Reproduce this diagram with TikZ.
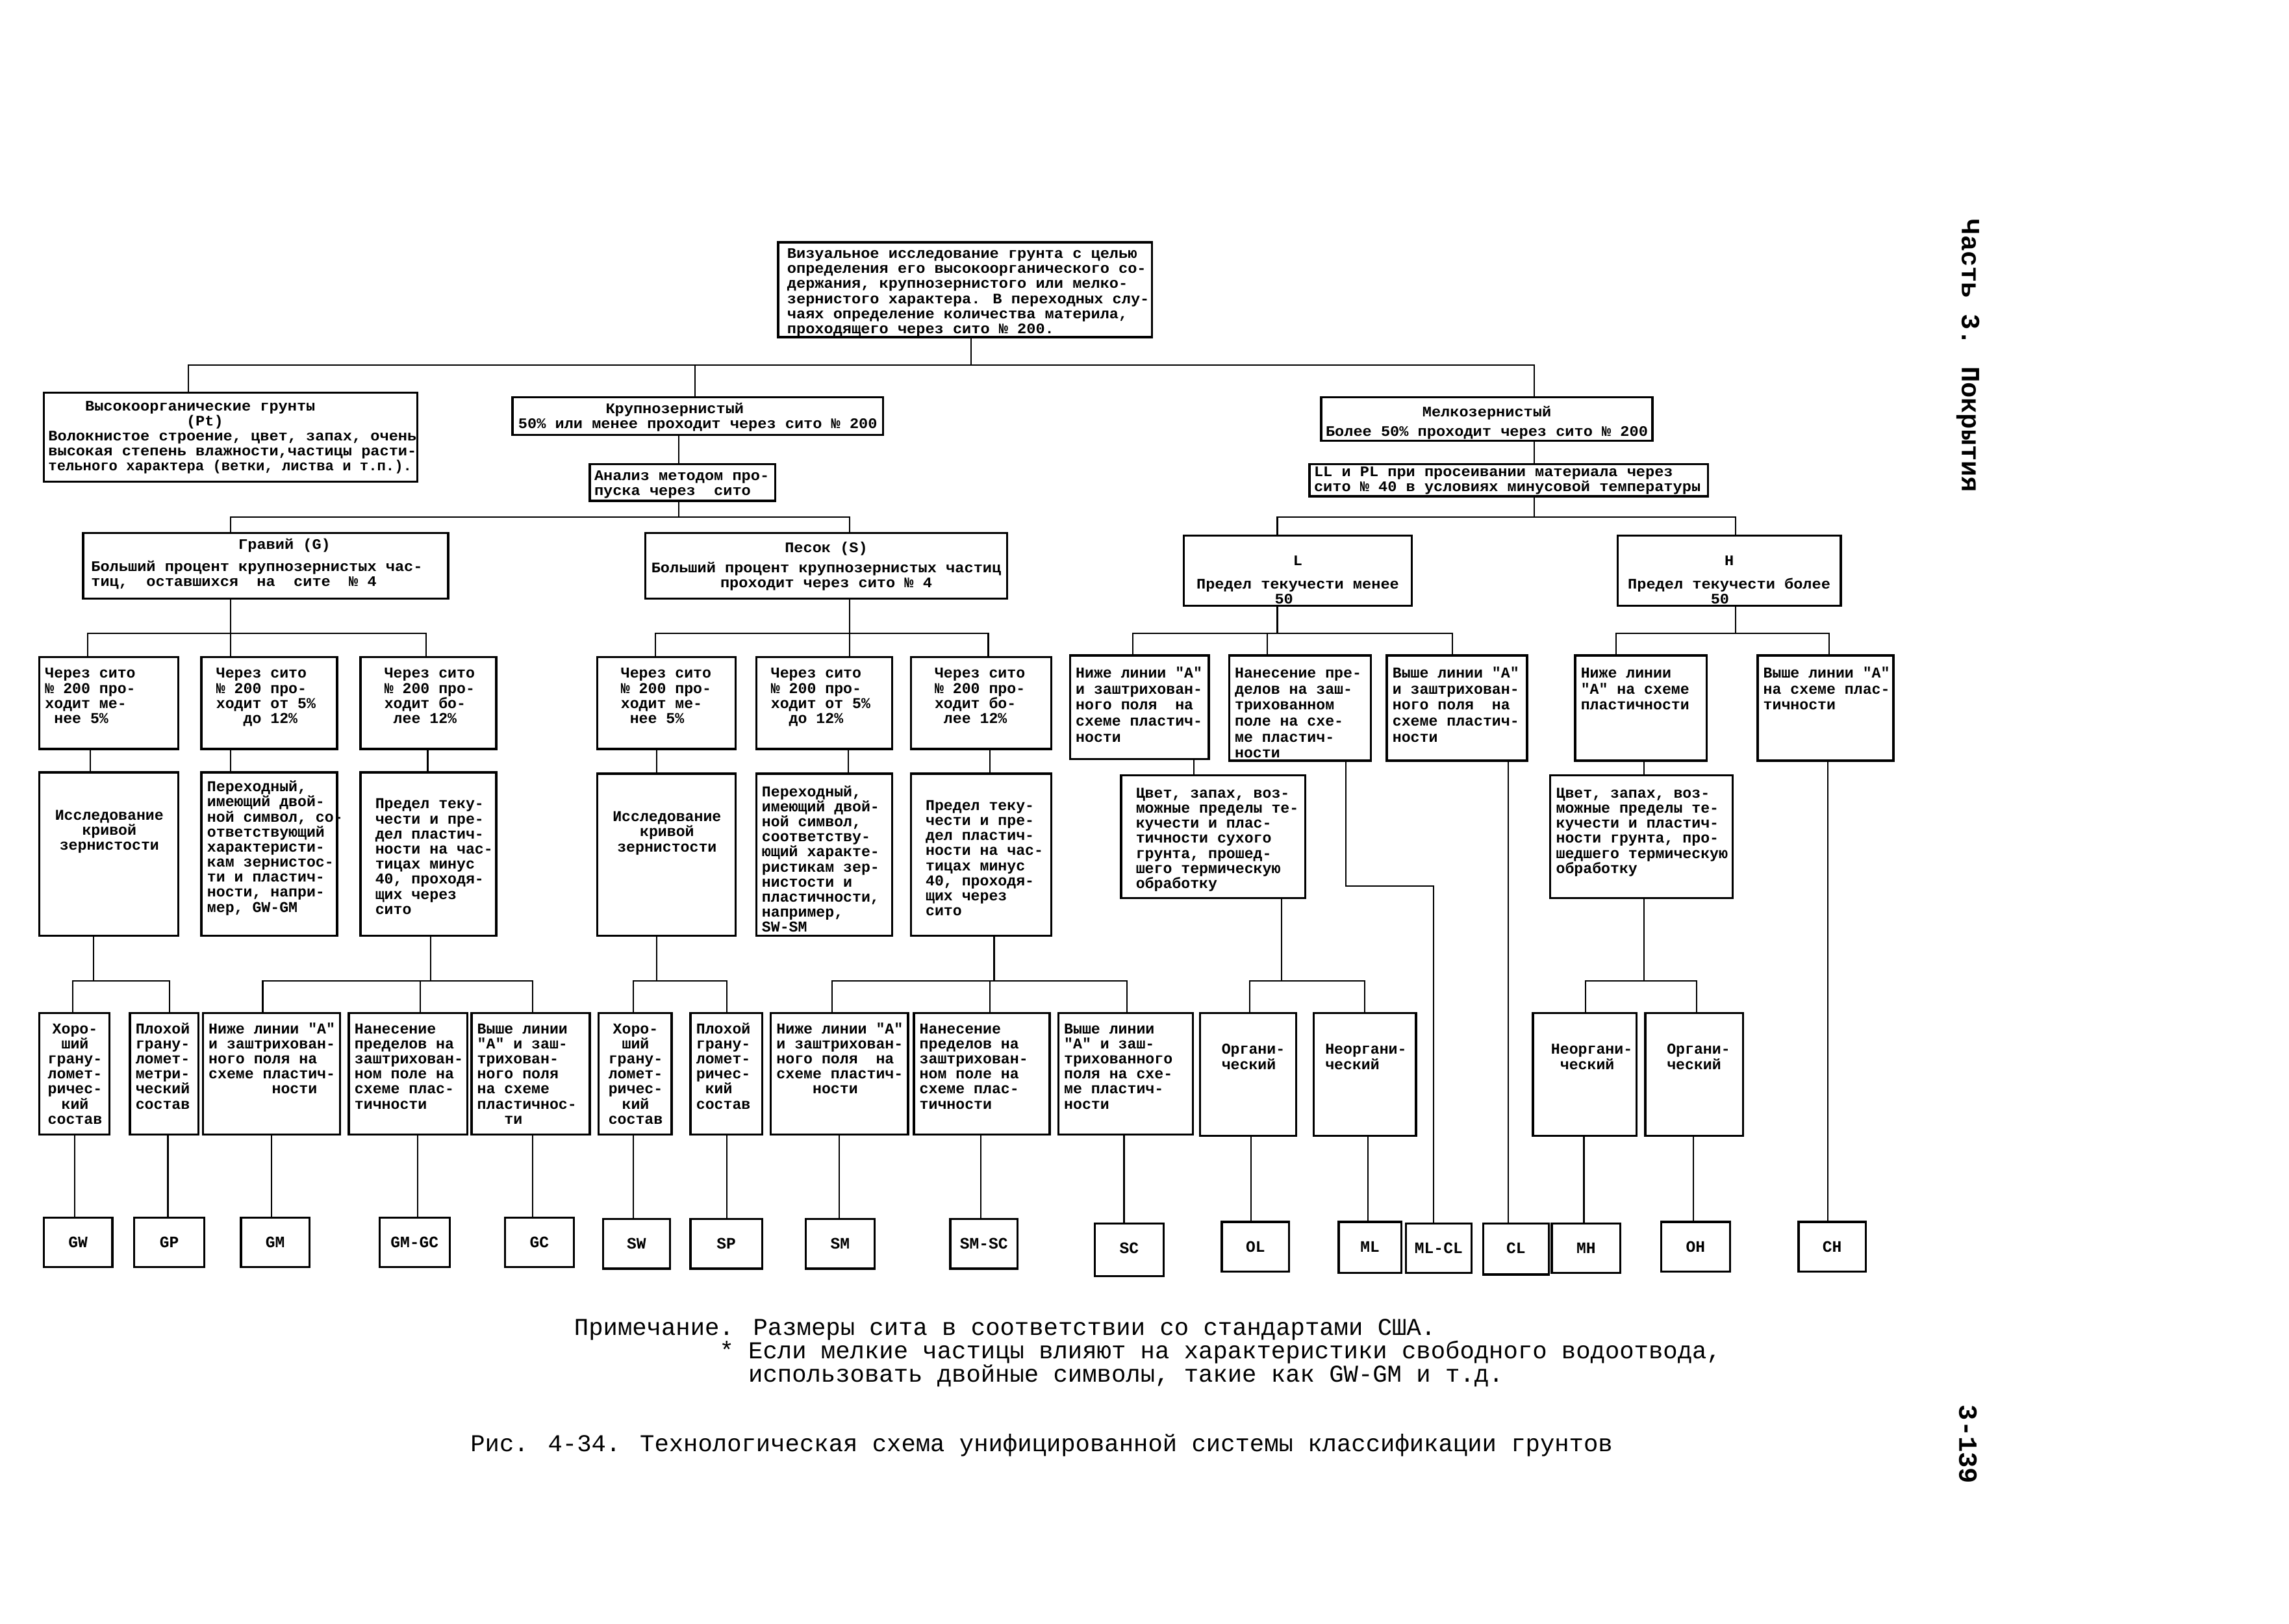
\documentclass[tikz,border=0pt]{standalone}
\usepackage{fontspec}
\usepackage{graphicx}
\usepackage{tikz}
\newfontfamily\mono{Liberation Mono}
\newfontfamily\monowide[FakeStretch=1.05]{Liberation Mono}
\newlength\unitpx \setlength\unitpx{0.22474mm}
\tikzset{
  toff/.store in=\toff, toff=0pt,
  lind/.store in=\lind, lind=0pt,
  box/.style={draw, line width=0.95pt, inner sep=0pt},
  topbox/.style={box, font=\monowide\bfseries\fontsize{6.4}{6.6}\selectfont, toff=0pt},
  lowbox/.style={box, font=\mono\bfseries\fontsize{6.6}{6.6}\selectfont, toff=2.3pt, lind=0.5pt},
  finebox/.style={box, font=\mono\bfseries\fontsize{6.6}{7}\selectfont, toff=2.6pt, lind=0.5pt},
  leaf/.style={box, font=\mono\bfseries\fontsize{7}{7}\selectfont, toff=5.9pt},
  link/.style={line width=0.6pt},
  note/.style={font=\mono\fontsize{10.6}{10.3}\selectfont, align=left, inner sep=0pt},
  side/.style={font=\mono\bfseries\fontsize{11.5}{12}\selectfont, inner sep=0pt},
}
\newcommand\rowgap[1]{\noalign{\vskip#1}}
% box by its corners: [style]{name}{x1}{y1}{x2}{y2}{l|c}{lines}
\newcommand\soilbox[8][]{%
  \node[#1, minimum width={(#5-#3)*\unitpx}, minimum height={(#6-#4)*\unitpx}]
    (#2) at ({(#3+#5)/2},{(#4+#6)/2})
    {\parbox[c][\dimexpr\unitpx*(#6-#4)-4pt\relax][t]{\dimexpr\unitpx*(#5-#3)-4pt\relax}{%
      \vspace*{\toff}\ifx c#7\centering\fi\leavevmode
      \vtop{\let\\=\cr\lineskiplimit=-\maxdimen
        \halign{\vrule height.75\baselineskip depth.25\baselineskip width0pt%
          \hskip\lind\ifx c#7\hfil\fi##\hfil\cr#8\crcr}}}};}

\begin{document}
\begin{tikzpicture}[x=0.22474mm, y=-0.22474mm]
\useasboundingbox (0,0) rectangle (1568,1112);

% top of the tree
\soilbox[topbox, lind=2pt]{vis}{533}{166}{789}{231}{l}{Визуальное исследование грунта с целью\\определения его высокоорганического со-\\держания, крупнозернистого или мелко-\\зернистого характера. В переходных слу-\\чаях определение количества материла,\\проходящего через сито № 200.}
\soilbox[topbox, toff=0.9pt]{pt}{30}{269}{286}{330}{l}{~~~~Высокоорганические грунты\\~~~~~~~~~~~~~~~(Pt)\\Волокнистое строение, цвет, запах, очень\\высокая степень влажности,частицы расти-\\\scalebox{0.94}[1]{тельного характера (ветки, листва и т.п.).}}
\soilbox[topbox, toff=0.3pt]{coarse}{351}{272}{605}{298}{c}{Крупнозернистый~~~~~\\50\% или менее проходит через сито № 200}
\soilbox[topbox, toff=0pt]{anal}{404}{318}{531}{343}{l}{Анализ методом про-\\пуска через~~сито}
\soilbox[topbox, toff=1.5pt]{fine}{905}{272}{1132}{302}{c}{Мелкозернистый\\\rowgap{2pt}Более 50\% проходит через сито № 200}
\soilbox[topbox, toff=-1.6pt]{llpl}{897}{318}{1170}{340}{l}{LL и PL при просеивании материала через\\сито № 40 в условиях минусовой температуры}

\soilbox[topbox, toff=0.3pt, lind=1.5pt]{grav}{57}{365}{307}{410}{l}{~~~~~~~~~~~~~~~~Гравий (G)\\\rowgap{3pt}Больший процент крупнозернистых час-\\тиц,~~оставшихся~~на~~сите~~№~4}
\soilbox[topbox, toff=1.5pt]{sand}{442}{365}{690}{410}{c}{Песок (S)\\\rowgap{2.3pt}Больший процент крупнозернистых частиц\\проходит через сито № 4}
\soilbox[topbox, toff=6pt]{lowL}{811}{367}{967}{415}{c}{L\\\rowgap{3.6pt}Предел текучести менее\\50~~~}
\soilbox[topbox, toff=6pt]{highH}{1108}{367}{1261}{415}{c}{H\\\rowgap{3.6pt}Предел текучести более\\50~~}

% gravel
\soilbox[lowbox]{g1}{27}{450}{122}{513}{l}{Через сито\\№ 200 про-\\ходит ме-\\~нее 5\%}
\soilbox[lowbox]{g2}{138}{450}{231}{513}{l}{~Через сито\\~№ 200 про-\\~ходит от 5\%\\~~~~до 12\%}
\soilbox[lowbox]{g3}{247}{450}{340}{513}{l}{~~Через сито\\~~№ 200 про-\\~~ходит бо-\\~~~лее 12\%}
\soilbox[lowbox, toff=14pt]{gl1}{27}{529}{122}{641}{c}{Исследование\\кривой\\зернистости}
\soilbox[lowbox, toff=1.5pt]{gl2}{138}{529}{231}{641}{l}{Переходный,\\имеющий двой-\\ной символ, со-\\ответствующий\\характеристи-\\кам зернистос-\\ти и пластич-\\ности, напри-\\мер, GW-GM}
\soilbox[lowbox, toff=9pt]{gl3}{247}{529}{340}{641}{l}{~Предел теку-\\~чести и пре-\\~дел пластич-\\~ности на час-\\~тицах минус\\~40, проходя-\\~щих через\\~сито}

% sand
\soilbox[lowbox]{s1}{409}{450}{504}{513}{l}{~~Через сито\\~~№ 200 про-\\~~ходит ме-\\~~~нее 5\%}
\soilbox[lowbox]{s2}{518}{450}{611}{513}{l}{~Через сито\\~№ 200 про-\\~ходит от 5\%\\~~~до 12\%}
\soilbox[lowbox]{s3}{624}{450}{720}{513}{l}{~~Через сито\\~~№ 200 про-\\~~ходит бо-\\~~~лее 12\%}
\soilbox[lowbox, toff=14pt]{sl1}{409}{530}{504}{641}{c}{Исследование\\кривой\\зернистости}
\soilbox[lowbox, toff=3pt]{sl2}{518}{530}{611}{641}{l}{Переходный,\\имеющий двой-\\ной символ,\\соответству-\\ющий характе-\\ристикам зер-\\нистости и\\пластичности,\\например,\\SW-SM}
\soilbox[lowbox, toff=9pt]{sl3}{624}{530}{720}{641}{l}{~Предел теку-\\~чести и пре-\\~дел пластич-\\~ности на час-\\~тицах минус\\~40, проходя-\\~щих через\\~сито}

% fine grained
\soilbox[finebox]{f1}{733}{449}{828}{520}{l}{Ниже линии "А"\\и заштрихован-\\ного поля~ на\\схеме пластич-\\ности}
\soilbox[finebox]{f2}{842}{449}{939}{521}{l}{Нанесение пре-\\делов на заш-\\трихованном\\поле на схе-\\ме пластич-\\ности}
\soilbox[finebox]{f3}{950}{449}{1046}{521}{l}{Выше линии "А"\\и заштрихован-\\ного поля~ на\\схеме пластич-\\ности}
\soilbox[finebox]{f4}{1079}{449}{1169}{521}{l}{Ниже линии\\"А" на схеме\\пластичности}
\soilbox[finebox]{f5}{1204}{449}{1297}{521}{l}{Выше линии "А"\\на схеме плас-\\тичности}
\soilbox[lowbox, toff=3pt]{c1}{768}{531}{894}{615}{l}{~Цвет, запах, воз-\\~можные пределы те-\\~кучести и плас-\\~тичности сухого\\~грунта, прошед-\\~шего термическую\\~обработку}
\soilbox[lowbox, toff=3pt]{c2}{1062}{531}{1187}{615}{l}{Цвет, запах, воз-\\можные пределы те-\\кучести и пластич-\\ности грунта, про-\\шедшего термическую\\обработку}

% bottom row
\soilbox[lowbox, toff=2pt]{gw}{27}{694}{75}{777}{c}{Хоро-\\ший\\грану-\\ломет-\\ричес-\\кий\\состав}
\soilbox[lowbox, toff=2pt]{gp}{89}{694}{136}{777}{l}{Плохой\\грану-\\ломет-\\метри-\\ческий\\состав}
\soilbox[lowbox, toff=2pt]{gm}{139}{694}{233}{777}{l}{Ниже линии "А"\\и заштрихован-\\ного поля на\\схеме пластич-\\~~~~~~~ности}
\soilbox[lowbox, toff=2pt]{gmgc}{239}{694}{320}{777}{l}{Нанесение\\пределов на\\заштрихован-\\ном поле на\\схеме плас-\\тичности}
\soilbox[lowbox, toff=2pt]{gc}{323}{694}{404}{777}{l}{Выше линии\\"А" и заш-\\трихован-\\ного поля\\на схеме\\пластичнос-\\~~~ти}
\soilbox[lowbox, toff=2pt]{sw}{410}{694}{460}{777}{c}{Хоро-\\ший\\грану-\\ломет-\\ричес-\\кий\\состав}
\soilbox[lowbox, toff=2pt]{sp}{473}{694}{522}{777}{l}{Плохой\\грану-\\ломет-\\ричес-\\~кий\\состав}
\soilbox[lowbox, toff=2pt]{sm}{528}{694}{622}{777}{l}{Ниже линии "А"\\и заштрихован-\\ного поля~ на\\схеме пластич-\\~~~~ности}
\soilbox[lowbox, toff=2pt]{smsc}{626}{694}{719}{777}{l}{Нанесение\\пределов на\\заштрихован-\\ном поле на\\схеме плас-\\тичности}
\soilbox[lowbox, toff=2pt]{sc}{725}{694}{817}{777}{l}{Выше линии\\"А" и заш-\\трихованного\\поля на схе-\\ме пластич-\\ности}
\soilbox[lowbox, toff=11pt, lind=7.5pt]{ol}{822}{694}{888}{778}{l}{Органи-\\ческий}
\soilbox[lowbox, toff=11pt, lind=3pt]{ml}{900}{694}{970}{778}{l}{Неоргани-\\ческий}
\soilbox[lowbox, toff=11pt, lind=6pt]{mh}{1050}{694}{1121}{778}{l}{Неоргани-\\~ческий}
\soilbox[lowbox, toff=11pt, lind=7.5pt]{oh}{1127}{694}{1194}{778}{l}{Органи-\\ческий}

% group symbols
\soilbox[leaf]{lgw}{30}{834}{77}{868}{c}{GW}
\soilbox[leaf]{lgp}{92}{834}{140}{868}{c}{GP}
\soilbox[leaf]{lgm}{165}{834}{212}{868}{c}{GM}
\soilbox[leaf]{lgmgc}{260}{834}{308}{868}{c}{GM-GC}
\soilbox[leaf]{lgc}{346}{834}{393}{868}{c}{GC}
\soilbox[leaf]{lsw}{413}{835}{459}{869}{c}{SW}
\soilbox[leaf]{lsp}{473}{835}{522}{869}{c}{SP}
\soilbox[leaf]{lsm}{552}{835}{599}{869}{c}{SM}
\soilbox[leaf]{lsmsc}{651}{835}{697}{869}{c}{SM-SC}
\soilbox[leaf]{lsc}{750}{838}{797}{874}{c}{SC}
\soilbox[leaf]{lol}{837}{837}{883}{871}{c}{OL}
\soilbox[leaf]{lml}{917}{837}{960}{872}{c}{ML}
\soilbox[leaf]{lmlcl}{963}{838}{1008}{872}{c}{ML-CL}
\soilbox[leaf]{lcl}{1016}{838}{1061}{873}{c}{CL}
\soilbox[leaf]{lmh}{1063}{838}{1110}{872}{c}{MH}
\soilbox[leaf]{loh}{1138}{837}{1185}{871}{c}{OH}
\soilbox[leaf]{lch}{1232}{837}{1278}{871}{c}{CH}

% connectors
\draw[link] (vis.south -| 665,0) -- (665,250) coordinate (b0);
\draw[link] (b0) -| (pt.north -| 129,0);
\draw[link] (b0) -| (coarse.north -| 476,0);
\draw[link] (b0) -| (fine.north -| 1051,0);
\draw[link] (coarse.south -| 465,0) -- (anal.north -| 465,0);
\draw[link] (anal.south -| 465,0) -- (465,354) coordinate (b1);
\draw[link] (b1) -| (grav.north -| 158,0);
\draw[link] (b1) -| (sand.north -| 582,0);
\draw[link] (fine.south -| 1051,0) -- (llpl.north -| 1051,0);
\draw[link] (llpl.south -| 1051,0) -- (1051,354) coordinate (b2);
\draw[link] (b2) -| (lowL.north -| 875,0);
\draw[link] (b2) -| (highH.north -| 1189,0);

\draw[link] (grav.south -| 158,0) -- (158,434) coordinate (b3);
\draw[link] (b3) -| (g1.north -| 60,0);
\draw[link] (b3) -- (g2.north -| 158,0);
\draw[link] (b3) -| (g3.north -| 292,0);
\draw[link] (sand.south -| 582,0) -- (582,434) coordinate (b4);
\draw[link] (b4) -| (s1.north -| 449,0);
\draw[link] (b4) -- (s2.north -| 582,0);
\draw[link] (b4) -| (s3.north -| 677,0);
\draw[link] (lowL.south -| 875,0) -- (875,434) coordinate (b5);
\draw[link] (b5) -| (f1.north -| 776,0);
\draw[link] (b5) -| (f2.north -| 868,0);
\draw[link] (b5) -| (f3.north -| 995,0);
\draw[link] (highH.south -| 1189,0) -- (1189,434) coordinate (b6);
\draw[link] (b6) -| (f4.north -| 1107,0);
\draw[link] (b6) -| (f5.north -| 1253,0);

\draw[link] (g1.south -| 62,0) -- (gl1.north -| 62,0);
\draw[link] (g2.south -| 158,0) -- (gl2.north -| 158,0);
\draw[link] (g3.south -| 293,0) -- (gl3.north -| 293,0);
\draw[link] (s1.south -| 450,0) -- (sl1.north -| 450,0);
\draw[link] (s2.south -| 581,0) -- (sl2.north -| 581,0);
\draw[link] (s3.south -| 678,0) -- (sl3.north -| 678,0);
\draw[link] (f1.south -| 818,0) -- (c1.north -| 818,0);
\draw[link] (f4.south -| 1126,0) -- (c2.north -| 1126,0);

\draw[link] (gl1.south -| 64,0) -- (64,672) coordinate (b7);
\draw[link] (b7) -| (gw.north -| 50,0);
\draw[link] (b7) -| (gp.north -| 116,0);
\draw[link] (gl3.south -| 295,0) -- (295,672) coordinate (b8);
\draw[link] (b8) -| (gm.north -| 180,0);
\draw[link] (b8) -| (gmgc.north -| 288,0);
\draw[link] (b8) -| (gc.north -| 365,0);
\draw[link] (sl1.south -| 450,0) -- (450,672) coordinate (b9);
\draw[link] (b9) -| (sw.north -| 434,0);
\draw[link] (b9) -| (sp.north -| 498,0);
\draw[link] (sl3.south -| 681,0) -- (681,672) coordinate (b10);
\draw[link] (b10) -| (sm.north -| 570,0);
\draw[link] (b10) -| (smsc.north -| 678,0);
\draw[link] (b10) -| (sc.north -| 772,0);
\draw[link] (c1.south -| 878,0) -- (878,672) coordinate (b11);
\draw[link] (b11) -| (ol.north -| 856,0);
\draw[link] (b11) -| (ml.north -| 935,0);
\draw[link] (c2.south -| 1126,0) -- (1126,672) coordinate (b12);
\draw[link] (b12) -| (mh.north -| 1086,0);
\draw[link] (b12) -| (oh.north -| 1162,0);

\draw[link] (gw.south -| 51,0) -- (lgw.north -| 51,0);
\draw[link] (gp.south -| 115,0) -- (lgp.north -| 115,0);
\draw[link] (gm.south -| 186,0) -- (lgm.north -| 186,0);
\draw[link] (gmgc.south -| 286,0) -- (lgmgc.north -| 286,0);
\draw[link] (gc.south -| 365,0) -- (lgc.north -| 365,0);
\draw[link] (sw.south -| 434,0) -- (lsw.north -| 434,0);
\draw[link] (sp.south -| 498,0) -- (lsp.north -| 498,0);
\draw[link] (sm.south -| 575,0) -- (lsm.north -| 575,0);
\draw[link] (smsc.south -| 672,0) -- (lsmsc.north -| 672,0);
\draw[link] (sc.south -| 770,0) -- (lsc.north -| 770,0);
\draw[link] (ol.south -| 857,0) -- (lol.north -| 857,0);
\draw[link] (ml.south -| 937,0) -- (lml.north -| 937,0);
\draw[link] (f2.south -| 922,0) |- (982,607) -- (lmlcl.north -| 982,0);
\draw[link] (f3.south -| 1033,0) -- (lcl.north -| 1033,0);
\draw[link] (mh.south -| 1085,0) -- (lmh.north -| 1085,0);
\draw[link] (oh.south -| 1160,0) -- (loh.north -| 1160,0);
\draw[link] (f5.south -| 1252,0) -- (lch.north -| 1252,0);

% notes and caption
\node[note, anchor=north west] (note) at (393,903) {Примечание. Размеры сита в соответствии со стандартами США.\\~~~~~~~~~~* Если мелкие частицы влияют на характеристики свободного водоотвода,\\~~~~~~~~~~~~использовать двойные символы, такие как GW-GM и т.д.};
\node[note, anchor=west] (caption) at (322,990) {Рис. 4-34. Технологическая схема унифицированной системы классификации грунтов};
\node[side, rotate=-90, anchor=west] (part) at (1348,150) {Часть 3. Покрытия};
\node[side, rotate=-90, anchor=west] (page) at (1348,962) {3-139};
\end{tikzpicture}
\end{document}
